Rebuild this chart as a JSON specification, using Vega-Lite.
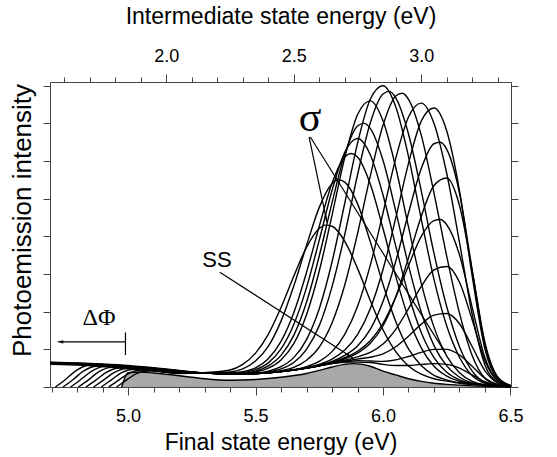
{
  "$schema": "https://vega.github.io/schema/vega-lite/v6.json",
  "width": 461,
  "height": 305,
  "autosize": "none",
  "padding": {"left": 50, "top": 82, "right": 46, "bottom": 70},
  "config": {
    "view": {"stroke": null},
    "font": "Liberation Sans",
    "axis": {"grid": false, "domainColor": "#444", "tickColor": "#444", "labelColor": "black", "titleColor": "black", "titleFontWeight": "normal", "labelFont": "Liberation Sans", "titleFont": "Liberation Sans"}
  },
  "datasets": {
    "spectra": [
      {"c": "SS", "e": 4.975, "i": 0}, {"c": "SS", "e": 5.0, "i": 0.38}, {"c": "SS", "e": 5.05, "i": 0.4}, {"c": "SS", "e": 5.1, "i": 0.37}, {"c": "SS", "e": 5.2, "i": 0.3}, {"c": "SS", "e": 5.3, "i": 0.22}, {"c": "SS", "e": 5.4, "i": 0.18}, {"c": "SS", "e": 5.5, "i": 0.2}, {"c": "SS", "e": 5.6, "i": 0.26}, {"c": "SS", "e": 5.7, "i": 0.36}, {"c": "SS", "e": 5.75, "i": 0.44}, {"c": "SS", "e": 5.8, "i": 0.53}, {"c": "SS", "e": 5.85, "i": 0.6}, {"c": "SS", "e": 5.88, "i": 0.62}, {"c": "SS", "e": 5.92, "i": 0.6}, {"c": "SS", "e": 5.95, "i": 0.55}, {"c": "SS", "e": 6.0, "i": 0.42}, {"c": "SS", "e": 6.05, "i": 0.32}, {"c": "SS", "e": 6.1, "i": 0.22}, {"c": "SS", "e": 6.15, "i": 0.15}, {"c": "SS", "e": 6.2, "i": 0.1}, {"c": "SS", "e": 6.25, "i": 0.07}, {"c": "SS", "e": 6.3, "i": 0.05}, {"c": "SS", "e": 6.35, "i": 0.03}, {"c": "SS", "e": 6.4, "i": 0.02}, {"c": "SS", "e": 6.5, "i": 0},
      {"c": "A", "e": 4.955, "i": 0}, {"c": "A", "e": 4.995, "i": 0.19}, {"c": "A", "e": 5.035, "i": 0.36}, {"c": "A", "e": 5.085, "i": 0.43}, {"c": "A", "e": 5.2, "i": 0.36}, {"c": "A", "e": 5.3, "i": 0.38}, {"c": "A", "e": 5.4, "i": 0.45}, {"c": "A", "e": 5.45, "i": 0.6}, {"c": "A", "e": 5.5, "i": 0.9}, {"c": "A", "e": 5.55, "i": 1.4}, {"c": "A", "e": 5.6, "i": 2.11}, {"c": "A", "e": 5.65, "i": 2.94}, {"c": "A", "e": 5.7, "i": 3.71}, {"c": "A", "e": 5.75, "i": 4.21}, {"c": "A", "e": 5.775, "i": 4.3}, {"c": "A", "e": 5.8, "i": 4.27}, {"c": "A", "e": 5.85, "i": 3.87}, {"c": "A", "e": 5.9, "i": 3.15}, {"c": "A", "e": 5.95, "i": 2.3}, {"c": "A", "e": 6.0, "i": 1.52}, {"c": "A", "e": 6.05, "i": 0.94}, {"c": "A", "e": 6.1, "i": 0.56}, {"c": "A", "e": 6.15, "i": 0.34}, {"c": "A", "e": 6.2, "i": 0.22}, {"c": "A", "e": 6.25, "i": 0.155}, {"c": "A", "e": 6.3, "i": 0.1}, {"c": "A", "e": 6.35, "i": 0.07}, {"c": "A", "e": 6.4, "i": 0.05}, {"c": "A", "e": 6.45, "i": 0.03}, {"c": "A", "e": 6.5, "i": 0.01},
      {"c": "B", "e": 4.925, "i": 0}, {"c": "B", "e": 4.965, "i": 0.19}, {"c": "B", "e": 5.005, "i": 0.37}, {"c": "B", "e": 5.055, "i": 0.45}, {"c": "B", "e": 5.2, "i": 0.37}, {"c": "B", "e": 5.3, "i": 0.37}, {"c": "B", "e": 5.4, "i": 0.4}, {"c": "B", "e": 5.45, "i": 0.48}, {"c": "B", "e": 5.5, "i": 0.69}, {"c": "B", "e": 5.55, "i": 1.08}, {"c": "B", "e": 5.6, "i": 1.75}, {"c": "B", "e": 5.65, "i": 2.68}, {"c": "B", "e": 5.7, "i": 3.76}, {"c": "B", "e": 5.75, "i": 4.77}, {"c": "B", "e": 5.8, "i": 5.4}, {"c": "B", "e": 5.825, "i": 5.5}, {"c": "B", "e": 5.85, "i": 5.44}, {"c": "B", "e": 5.9, "i": 4.87}, {"c": "B", "e": 5.95, "i": 3.86}, {"c": "B", "e": 6.0, "i": 2.73}, {"c": "B", "e": 6.05, "i": 1.74}, {"c": "B", "e": 6.1, "i": 1.01}, {"c": "B", "e": 6.15, "i": 0.57}, {"c": "B", "e": 6.2, "i": 0.31}, {"c": "B", "e": 6.25, "i": 0.19}, {"c": "B", "e": 6.3, "i": 0.11}, {"c": "B", "e": 6.35, "i": 0.07}, {"c": "B", "e": 6.4, "i": 0.05}, {"c": "B", "e": 6.45, "i": 0.03}, {"c": "B", "e": 6.5, "i": 0.01},
      {"c": "C", "e": 4.895, "i": 0}, {"c": "C", "e": 4.935, "i": 0.19}, {"c": "C", "e": 4.975, "i": 0.38}, {"c": "C", "e": 5.025, "i": 0.47}, {"c": "C", "e": 5.1, "i": 0.43}, {"c": "C", "e": 5.2, "i": 0.37}, {"c": "C", "e": 5.3, "i": 0.37}, {"c": "C", "e": 5.4, "i": 0.37}, {"c": "C", "e": 5.45, "i": 0.41}, {"c": "C", "e": 5.5, "i": 0.51}, {"c": "C", "e": 5.55, "i": 0.75}, {"c": "C", "e": 5.6, "i": 1.21}, {"c": "C", "e": 5.65, "i": 1.97}, {"c": "C", "e": 5.7, "i": 3.04}, {"c": "C", "e": 5.75, "i": 4.27}, {"c": "C", "e": 5.8, "i": 5.41}, {"c": "C", "e": 5.85, "i": 6.11}, {"c": "C", "e": 5.875, "i": 6.2}, {"c": "C", "e": 5.9, "i": 6.11}, {"c": "C", "e": 5.95, "i": 5.39}, {"c": "C", "e": 6.0, "i": 4.21}, {"c": "C", "e": 6.05, "i": 2.94}, {"c": "C", "e": 6.1, "i": 1.83}, {"c": "C", "e": 6.15, "i": 1.04}, {"c": "C", "e": 6.2, "i": 0.55}, {"c": "C", "e": 6.25, "i": 0.29}, {"c": "C", "e": 6.3, "i": 0.15}, {"c": "C", "e": 6.35, "i": 0.08}, {"c": "C", "e": 6.4, "i": 0.05}, {"c": "C", "e": 6.45, "i": 0.03}, {"c": "C", "e": 6.5, "i": 0.01},
      {"c": "D", "e": 4.865, "i": 0}, {"c": "D", "e": 4.905, "i": 0.19}, {"c": "D", "e": 4.945, "i": 0.38}, {"c": "D", "e": 4.995, "i": 0.49}, {"c": "D", "e": 5.1, "i": 0.435}, {"c": "D", "e": 5.2, "i": 0.375}, {"c": "D", "e": 5.3, "i": 0.37}, {"c": "D", "e": 5.4, "i": 0.36}, {"c": "D", "e": 5.45, "i": 0.38}, {"c": "D", "e": 5.5, "i": 0.46}, {"c": "D", "e": 5.55, "i": 0.64}, {"c": "D", "e": 5.6, "i": 1.01}, {"c": "D", "e": 5.65, "i": 1.66}, {"c": "D", "e": 5.7, "i": 2.64}, {"c": "D", "e": 5.75, "i": 3.9}, {"c": "D", "e": 5.8, "i": 5.22}, {"c": "D", "e": 5.85, "i": 6.23}, {"c": "D", "e": 5.9, "i": 6.6}, {"c": "D", "e": 5.95, "i": 6.17}, {"c": "D", "e": 6.0, "i": 5.1}, {"c": "D", "e": 6.05, "i": 3.74}, {"c": "D", "e": 6.1, "i": 2.45}, {"c": "D", "e": 6.15, "i": 1.45}, {"c": "D", "e": 6.2, "i": 0.78}, {"c": "D", "e": 6.25, "i": 0.39}, {"c": "D", "e": 6.3, "i": 0.19}, {"c": "D", "e": 6.35, "i": 0.09}, {"c": "D", "e": 6.4, "i": 0.05}, {"c": "D", "e": 6.45, "i": 0.03}, {"c": "D", "e": 6.5, "i": 0.01},
      {"c": "E", "e": 4.835, "i": 0}, {"c": "E", "e": 4.875, "i": 0.19}, {"c": "E", "e": 4.915, "i": 0.39}, {"c": "E", "e": 4.965, "i": 0.505}, {"c": "E", "e": 5.1, "i": 0.44}, {"c": "E", "e": 5.2, "i": 0.38}, {"c": "E", "e": 5.3, "i": 0.37}, {"c": "E", "e": 5.4, "i": 0.36}, {"c": "E", "e": 5.45, "i": 0.37}, {"c": "E", "e": 5.5, "i": 0.42}, {"c": "E", "e": 5.55, "i": 0.56}, {"c": "E", "e": 5.6, "i": 0.84}, {"c": "E", "e": 5.65, "i": 1.37}, {"c": "E", "e": 5.7, "i": 2.25}, {"c": "E", "e": 5.75, "i": 3.48}, {"c": "E", "e": 5.8, "i": 4.89}, {"c": "E", "e": 5.85, "i": 6.18}, {"c": "E", "e": 5.9, "i": 6.93}, {"c": "E", "e": 5.925, "i": 7.0}, {"c": "E", "e": 5.95, "i": 6.87}, {"c": "E", "e": 6.0, "i": 6.02}, {"c": "E", "e": 6.05, "i": 4.67}, {"c": "E", "e": 6.1, "i": 3.23}, {"c": "E", "e": 6.15, "i": 1.99}, {"c": "E", "e": 6.2, "i": 1.1}, {"c": "E", "e": 6.25, "i": 0.56}, {"c": "E", "e": 6.3, "i": 0.26}, {"c": "E", "e": 6.35, "i": 0.11}, {"c": "E", "e": 6.4, "i": 0.06}, {"c": "E", "e": 6.45, "i": 0.03}, {"c": "E", "e": 6.5, "i": 0.01},
      {"c": "F", "e": 4.805, "i": 0}, {"c": "F", "e": 4.845, "i": 0.19}, {"c": "F", "e": 4.885, "i": 0.4}, {"c": "F", "e": 4.935, "i": 0.52}, {"c": "F", "e": 5.0, "i": 0.5}, {"c": "F", "e": 5.1, "i": 0.445}, {"c": "F", "e": 5.2, "i": 0.38}, {"c": "F", "e": 5.3, "i": 0.37}, {"c": "F", "e": 5.4, "i": 0.35}, {"c": "F", "e": 5.45, "i": 0.36}, {"c": "F", "e": 5.5, "i": 0.4}, {"c": "F", "e": 5.55, "i": 0.5}, {"c": "F", "e": 5.6, "i": 0.72}, {"c": "F", "e": 5.65, "i": 1.15}, {"c": "F", "e": 5.7, "i": 1.92}, {"c": "F", "e": 5.75, "i": 3.08}, {"c": "F", "e": 5.8, "i": 4.56}, {"c": "F", "e": 5.85, "i": 6.09}, {"c": "F", "e": 5.9, "i": 7.23}, {"c": "F", "e": 5.95, "i": 7.6}, {"c": "F", "e": 6.0, "i": 7.07}, {"c": "F", "e": 6.05, "i": 5.83}, {"c": "F", "e": 6.1, "i": 4.25}, {"c": "F", "e": 6.15, "i": 2.76}, {"c": "F", "e": 6.2, "i": 1.59}, {"c": "F", "e": 6.25, "i": 0.82}, {"c": "F", "e": 6.3, "i": 0.38}, {"c": "F", "e": 6.35, "i": 0.15}, {"c": "F", "e": 6.4, "i": 0.06}, {"c": "F", "e": 6.45, "i": 0.03}, {"c": "F", "e": 6.5, "i": 0.01},
      {"c": "G", "e": 4.775, "i": 0}, {"c": "G", "e": 4.815, "i": 0.2}, {"c": "G", "e": 4.855, "i": 0.41}, {"c": "G", "e": 4.905, "i": 0.54}, {"c": "G", "e": 5.0, "i": 0.5}, {"c": "G", "e": 5.1, "i": 0.45}, {"c": "G", "e": 5.2, "i": 0.39}, {"c": "G", "e": 5.3, "i": 0.37}, {"c": "G", "e": 5.4, "i": 0.35}, {"c": "G", "e": 5.5, "i": 0.37}, {"c": "G", "e": 5.55, "i": 0.42}, {"c": "G", "e": 5.6, "i": 0.54}, {"c": "G", "e": 5.65, "i": 0.78}, {"c": "G", "e": 5.7, "i": 1.26}, {"c": "G", "e": 5.75, "i": 2.08}, {"c": "G", "e": 5.8, "i": 3.32}, {"c": "G", "e": 5.85, "i": 4.88}, {"c": "G", "e": 5.9, "i": 6.47}, {"c": "G", "e": 5.95, "i": 7.64}, {"c": "G", "e": 6.0, "i": 8.0}, {"c": "G", "e": 6.05, "i": 7.44}, {"c": "G", "e": 6.1, "i": 6.12}, {"c": "G", "e": 6.15, "i": 4.46}, {"c": "G", "e": 6.2, "i": 2.86}, {"c": "G", "e": 6.25, "i": 1.62}, {"c": "G", "e": 6.3, "i": 0.79}, {"c": "G", "e": 6.35, "i": 0.3}, {"c": "G", "e": 6.4, "i": 0.1}, {"c": "G", "e": 6.45, "i": 0.035}, {"c": "G", "e": 6.5, "i": 0.01},
      {"c": "H", "e": 4.745, "i": 0}, {"c": "H", "e": 4.785, "i": 0.2}, {"c": "H", "e": 4.825, "i": 0.42}, {"c": "H", "e": 4.875, "i": 0.55}, {"c": "H", "e": 5.0, "i": 0.51}, {"c": "H", "e": 5.1, "i": 0.455}, {"c": "H", "e": 5.2, "i": 0.39}, {"c": "H", "e": 5.3, "i": 0.37}, {"c": "H", "e": 5.4, "i": 0.35}, {"c": "H", "e": 5.5, "i": 0.36}, {"c": "H", "e": 5.55, "i": 0.4}, {"c": "H", "e": 5.6, "i": 0.48}, {"c": "H", "e": 5.65, "i": 0.65}, {"c": "H", "e": 5.7, "i": 1.0}, {"c": "H", "e": 5.75, "i": 1.63}, {"c": "H", "e": 5.8, "i": 2.66}, {"c": "H", "e": 5.85, "i": 4.05}, {"c": "H", "e": 5.9, "i": 5.63}, {"c": "H", "e": 5.95, "i": 7.01}, {"c": "H", "e": 6.0, "i": 7.78}, {"c": "H", "e": 6.025, "i": 7.85}, {"c": "H", "e": 6.05, "i": 7.68}, {"c": "H", "e": 6.1, "i": 6.72}, {"c": "H", "e": 6.15, "i": 5.21}, {"c": "H", "e": 6.2, "i": 3.55}, {"c": "H", "e": 6.25, "i": 2.13}, {"c": "H", "e": 6.3, "i": 1.07}, {"c": "H", "e": 6.35, "i": 0.42}, {"c": "H", "e": 6.4, "i": 0.12}, {"c": "H", "e": 6.45, "i": 0.04}, {"c": "H", "e": 6.5, "i": 0.01},
      {"c": "I", "e": 4.715, "i": 0}, {"c": "I", "e": 4.755, "i": 0.2}, {"c": "I", "e": 4.795, "i": 0.43}, {"c": "I", "e": 4.845, "i": 0.57}, {"c": "I", "e": 4.9, "i": 0.55}, {"c": "I", "e": 5.0, "i": 0.52}, {"c": "I", "e": 5.1, "i": 0.46}, {"c": "I", "e": 5.2, "i": 0.4}, {"c": "I", "e": 5.3, "i": 0.37}, {"c": "I", "e": 5.4, "i": 0.35}, {"c": "I", "e": 5.5, "i": 0.36}, {"c": "I", "e": 5.55, "i": 0.38}, {"c": "I", "e": 5.6, "i": 0.43}, {"c": "I", "e": 5.65, "i": 0.52}, {"c": "I", "e": 5.7, "i": 0.71}, {"c": "I", "e": 5.75, "i": 1.06}, {"c": "I", "e": 5.8, "i": 1.7}, {"c": "I", "e": 5.85, "i": 2.71}, {"c": "I", "e": 5.9, "i": 4.07}, {"c": "I", "e": 5.95, "i": 5.6}, {"c": "I", "e": 6.0, "i": 6.95}, {"c": "I", "e": 6.05, "i": 7.73}, {"c": "I", "e": 6.075, "i": 7.8}, {"c": "I", "e": 6.1, "i": 7.64}, {"c": "I", "e": 6.15, "i": 6.69}, {"c": "I", "e": 6.2, "i": 5.15}, {"c": "I", "e": 6.25, "i": 3.47}, {"c": "I", "e": 6.3, "i": 1.96}, {"c": "I", "e": 6.35, "i": 0.83}, {"c": "I", "e": 6.4, "i": 0.23}, {"c": "I", "e": 6.45, "i": 0.055}, {"c": "I", "e": 6.5, "i": 0.012},
      {"c": "J", "e": 4.694, "i": 0.6}, {"c": "J", "e": 4.8, "i": 0.59}, {"c": "J", "e": 4.9, "i": 0.56}, {"c": "J", "e": 5.0, "i": 0.52}, {"c": "J", "e": 5.1, "i": 0.465}, {"c": "J", "e": 5.2, "i": 0.4}, {"c": "J", "e": 5.3, "i": 0.37}, {"c": "J", "e": 5.4, "i": 0.35}, {"c": "J", "e": 5.5, "i": 0.36}, {"c": "J", "e": 5.6, "i": 0.41}, {"c": "J", "e": 5.65, "i": 0.46}, {"c": "J", "e": 5.7, "i": 0.54}, {"c": "J", "e": 5.75, "i": 0.68}, {"c": "J", "e": 5.8, "i": 0.94}, {"c": "J", "e": 5.85, "i": 1.4}, {"c": "J", "e": 5.9, "i": 2.14}, {"c": "J", "e": 5.95, "i": 3.23}, {"c": "J", "e": 6.0, "i": 4.62}, {"c": "J", "e": 6.05, "i": 6.07}, {"c": "J", "e": 6.1, "i": 7.17}, {"c": "J", "e": 6.15, "i": 7.54}, {"c": "J", "e": 6.2, "i": 7.0}, {"c": "J", "e": 6.25, "i": 5.67}, {"c": "J", "e": 6.3, "i": 3.84}, {"c": "J", "e": 6.35, "i": 1.92}, {"c": "J", "e": 6.4, "i": 0.58}, {"c": "J", "e": 6.45, "i": 0.12}, {"c": "J", "e": 6.5, "i": 0.02},
      {"c": "K", "e": 4.694, "i": 0.61}, {"c": "K", "e": 4.8, "i": 0.59}, {"c": "K", "e": 4.9, "i": 0.56}, {"c": "K", "e": 5.0, "i": 0.53}, {"c": "K", "e": 5.1, "i": 0.47}, {"c": "K", "e": 5.2, "i": 0.4}, {"c": "K", "e": 5.3, "i": 0.37}, {"c": "K", "e": 5.4, "i": 0.35}, {"c": "K", "e": 5.5, "i": 0.36}, {"c": "K", "e": 5.6, "i": 0.41}, {"c": "K", "e": 5.7, "i": 0.51}, {"c": "K", "e": 5.75, "i": 0.6}, {"c": "K", "e": 5.8, "i": 0.74}, {"c": "K", "e": 5.85, "i": 0.98}, {"c": "K", "e": 5.9, "i": 1.39}, {"c": "K", "e": 5.95, "i": 2.08}, {"c": "K", "e": 6.0, "i": 3.12}, {"c": "K", "e": 6.05, "i": 4.49}, {"c": "K", "e": 6.1, "i": 5.94}, {"c": "K", "e": 6.15, "i": 7.06}, {"c": "K", "e": 6.2, "i": 7.41}, {"c": "K", "e": 6.25, "i": 6.8}, {"c": "K", "e": 6.3, "i": 5.21}, {"c": "K", "e": 6.35, "i": 2.94}, {"c": "K", "e": 6.4, "i": 1.0}, {"c": "K", "e": 6.45, "i": 0.21}, {"c": "K", "e": 6.5, "i": 0.03},
      {"c": "L", "e": 4.694, "i": 0.62}, {"c": "L", "e": 4.8, "i": 0.6}, {"c": "L", "e": 4.9, "i": 0.57}, {"c": "L", "e": 5.0, "i": 0.53}, {"c": "L", "e": 5.1, "i": 0.475}, {"c": "L", "e": 5.2, "i": 0.41}, {"c": "L", "e": 5.3, "i": 0.37}, {"c": "L", "e": 5.4, "i": 0.35}, {"c": "L", "e": 5.5, "i": 0.36}, {"c": "L", "e": 5.6, "i": 0.41}, {"c": "L", "e": 5.7, "i": 0.5}, {"c": "L", "e": 5.75, "i": 0.58}, {"c": "L", "e": 5.8, "i": 0.68}, {"c": "L", "e": 5.85, "i": 0.84}, {"c": "L", "e": 5.9, "i": 1.09}, {"c": "L", "e": 5.95, "i": 1.53}, {"c": "L", "e": 6.0, "i": 2.27}, {"c": "L", "e": 6.05, "i": 3.34}, {"c": "L", "e": 6.1, "i": 4.62}, {"c": "L", "e": 6.15, "i": 5.8}, {"c": "L", "e": 6.2, "i": 6.46}, {"c": "L", "e": 6.225, "i": 6.5}, {"c": "L", "e": 6.25, "i": 6.31}, {"c": "L", "e": 6.3, "i": 5.15}, {"c": "L", "e": 6.35, "i": 3.1}, {"c": "L", "e": 6.4, "i": 1.11}, {"c": "L", "e": 6.45, "i": 0.24}, {"c": "L", "e": 6.5, "i": 0.04},
      {"c": "M", "e": 4.694, "i": 0.62}, {"c": "M", "e": 4.8, "i": 0.6}, {"c": "M", "e": 4.9, "i": 0.58}, {"c": "M", "e": 5.0, "i": 0.54}, {"c": "M", "e": 5.1, "i": 0.48}, {"c": "M", "e": 5.2, "i": 0.41}, {"c": "M", "e": 5.3, "i": 0.37}, {"c": "M", "e": 5.4, "i": 0.35}, {"c": "M", "e": 5.5, "i": 0.36}, {"c": "M", "e": 5.6, "i": 0.41}, {"c": "M", "e": 5.7, "i": 0.5}, {"c": "M", "e": 5.8, "i": 0.65}, {"c": "M", "e": 5.85, "i": 0.75}, {"c": "M", "e": 5.9, "i": 0.9}, {"c": "M", "e": 5.95, "i": 1.16}, {"c": "M", "e": 6.0, "i": 1.62}, {"c": "M", "e": 6.05, "i": 2.39}, {"c": "M", "e": 6.1, "i": 3.43}, {"c": "M", "e": 6.15, "i": 4.53}, {"c": "M", "e": 6.2, "i": 5.35}, {"c": "M", "e": 6.25, "i": 5.55}, {"c": "M", "e": 6.3, "i": 4.82}, {"c": "M", "e": 6.35, "i": 3.08}, {"c": "M", "e": 6.4, "i": 1.18}, {"c": "M", "e": 6.45, "i": 0.27}, {"c": "M", "e": 6.5, "i": 0.045},
      {"c": "N", "e": 4.694, "i": 0.63}, {"c": "N", "e": 4.8, "i": 0.61}, {"c": "N", "e": 4.9, "i": 0.58}, {"c": "N", "e": 5.0, "i": 0.54}, {"c": "N", "e": 5.1, "i": 0.485}, {"c": "N", "e": 5.2, "i": 0.42}, {"c": "N", "e": 5.3, "i": 0.37}, {"c": "N", "e": 5.4, "i": 0.35}, {"c": "N", "e": 5.5, "i": 0.36}, {"c": "N", "e": 5.6, "i": 0.41}, {"c": "N", "e": 5.7, "i": 0.5}, {"c": "N", "e": 5.75, "i": 0.57}, {"c": "N", "e": 5.8, "i": 0.66}, {"c": "N", "e": 5.85, "i": 0.78}, {"c": "N", "e": 5.9, "i": 0.95}, {"c": "N", "e": 5.95, "i": 1.23}, {"c": "N", "e": 6.0, "i": 1.69}, {"c": "N", "e": 6.05, "i": 2.39}, {"c": "N", "e": 6.1, "i": 3.22}, {"c": "N", "e": 6.15, "i": 4.0}, {"c": "N", "e": 6.2, "i": 4.42}, {"c": "N", "e": 6.225, "i": 4.45}, {"c": "N", "e": 6.25, "i": 4.31}, {"c": "N", "e": 6.3, "i": 3.51}, {"c": "N", "e": 6.35, "i": 2.11}, {"c": "N", "e": 6.4, "i": 0.77}, {"c": "N", "e": 6.45, "i": 0.17}, {"c": "N", "e": 6.5, "i": 0.03},
      {"c": "O", "e": 4.694, "i": 0.64}, {"c": "O", "e": 4.8, "i": 0.62}, {"c": "O", "e": 4.9, "i": 0.59}, {"c": "O", "e": 5.0, "i": 0.55}, {"c": "O", "e": 5.1, "i": 0.49}, {"c": "O", "e": 5.2, "i": 0.42}, {"c": "O", "e": 5.3, "i": 0.37}, {"c": "O", "e": 5.4, "i": 0.35}, {"c": "O", "e": 5.5, "i": 0.36}, {"c": "O", "e": 5.6, "i": 0.41}, {"c": "O", "e": 5.7, "i": 0.5}, {"c": "O", "e": 5.8, "i": 0.64}, {"c": "O", "e": 5.85, "i": 0.71}, {"c": "O", "e": 5.9, "i": 0.8}, {"c": "O", "e": 5.95, "i": 0.92}, {"c": "O", "e": 6.0, "i": 1.14}, {"c": "O", "e": 6.05, "i": 1.53}, {"c": "O", "e": 6.1, "i": 2.08}, {"c": "O", "e": 6.15, "i": 2.67}, {"c": "O", "e": 6.2, "i": 3.11}, {"c": "O", "e": 6.25, "i": 3.2}, {"c": "O", "e": 6.3, "i": 2.78}, {"c": "O", "e": 6.35, "i": 1.78}, {"c": "O", "e": 6.4, "i": 0.69}, {"c": "O", "e": 6.45, "i": 0.16}, {"c": "O", "e": 6.5, "i": 0.03},
      {"c": "P", "e": 4.694, "i": 0.64}, {"c": "P", "e": 4.8, "i": 0.62}, {"c": "P", "e": 4.9, "i": 0.59}, {"c": "P", "e": 5.0, "i": 0.55}, {"c": "P", "e": 5.1, "i": 0.495}, {"c": "P", "e": 5.2, "i": 0.43}, {"c": "P", "e": 5.3, "i": 0.37}, {"c": "P", "e": 5.4, "i": 0.35}, {"c": "P", "e": 5.5, "i": 0.36}, {"c": "P", "e": 5.6, "i": 0.41}, {"c": "P", "e": 5.7, "i": 0.5}, {"c": "P", "e": 5.8, "i": 0.63}, {"c": "P", "e": 5.85, "i": 0.69}, {"c": "P", "e": 5.9, "i": 0.74}, {"c": "P", "e": 5.95, "i": 0.79}, {"c": "P", "e": 6.0, "i": 0.88}, {"c": "P", "e": 6.05, "i": 1.07}, {"c": "P", "e": 6.1, "i": 1.35}, {"c": "P", "e": 6.15, "i": 1.67}, {"c": "P", "e": 6.2, "i": 1.91}, {"c": "P", "e": 6.25, "i": 1.95}, {"c": "P", "e": 6.3, "i": 1.68}, {"c": "P", "e": 6.35, "i": 1.07}, {"c": "P", "e": 6.4, "i": 0.43}, {"c": "P", "e": 6.45, "i": 0.11}, {"c": "P", "e": 6.5, "i": 0.02},
      {"c": "Q", "e": 4.694, "i": 0.65}, {"c": "Q", "e": 4.8, "i": 0.63}, {"c": "Q", "e": 4.9, "i": 0.6}, {"c": "Q", "e": 5.0, "i": 0.56}, {"c": "Q", "e": 5.1, "i": 0.5}, {"c": "Q", "e": 5.2, "i": 0.43}, {"c": "Q", "e": 5.3, "i": 0.37}, {"c": "Q", "e": 5.4, "i": 0.35}, {"c": "Q", "e": 5.5, "i": 0.36}, {"c": "Q", "e": 5.6, "i": 0.41}, {"c": "Q", "e": 5.7, "i": 0.5}, {"c": "Q", "e": 5.8, "i": 0.62}, {"c": "Q", "e": 5.85, "i": 0.66}, {"c": "Q", "e": 5.9, "i": 0.7}, {"c": "Q", "e": 5.95, "i": 0.69}, {"c": "Q", "e": 6.0, "i": 0.68}, {"c": "Q", "e": 6.05, "i": 0.72}, {"c": "Q", "e": 6.1, "i": 0.81}, {"c": "Q", "e": 6.15, "i": 0.92}, {"c": "Q", "e": 6.2, "i": 1.0}, {"c": "Q", "e": 6.25, "i": 1.0}, {"c": "Q", "e": 6.3, "i": 0.85}, {"c": "Q", "e": 6.35, "i": 0.55}, {"c": "Q", "e": 6.4, "i": 0.23}, {"c": "Q", "e": 6.45, "i": 0.07}, {"c": "Q", "e": 6.5, "i": 0.01},
      {"c": "R", "e": 4.694, "i": 0.66}, {"c": "R", "e": 4.8, "i": 0.64}, {"c": "R", "e": 4.9, "i": 0.61}, {"c": "R", "e": 5.0, "i": 0.57}, {"c": "R", "e": 5.1, "i": 0.51}, {"c": "R", "e": 5.2, "i": 0.44}, {"c": "R", "e": 5.3, "i": 0.37}, {"c": "R", "e": 5.4, "i": 0.35}, {"c": "R", "e": 5.5, "i": 0.36}, {"c": "R", "e": 5.6, "i": 0.41}, {"c": "R", "e": 5.7, "i": 0.5}, {"c": "R", "e": 5.8, "i": 0.62}, {"c": "R", "e": 5.85, "i": 0.66}, {"c": "R", "e": 5.9, "i": 0.66}, {"c": "R", "e": 5.95, "i": 0.65}, {"c": "R", "e": 6.0, "i": 0.6}, {"c": "R", "e": 6.05, "i": 0.57}, {"c": "R", "e": 6.1, "i": 0.57}, {"c": "R", "e": 6.15, "i": 0.6}, {"c": "R", "e": 6.2, "i": 0.62}, {"c": "R", "e": 6.25, "i": 0.6}, {"c": "R", "e": 6.3, "i": 0.5}, {"c": "R", "e": 6.35, "i": 0.32}, {"c": "R", "e": 6.4, "i": 0.14}, {"c": "R", "e": 6.45, "i": 0.05}, {"c": "R", "e": 6.5, "i": 0.01}
    ],
    "pointers": [
      {"g": "s1", "e": 5.71, "i": 6.64}, {"g": "s1", "e": 5.78, "i": 4.38},
      {"g": "s2", "e": 5.715, "i": 6.64}, {"g": "s2", "e": 6.245, "i": 0.9},
      {"g": "ss", "e": 5.36, "i": 3.05}, {"g": "ss", "e": 5.882, "i": 0.77},
      {"g": "dp", "e": 4.745, "i": 1.2}, {"g": "dp", "e": 4.99, "i": 1.2},
      {"g": "bar", "e": 4.99, "i": 0.85}, {"g": "bar", "e": 4.99, "i": 1.45}
    ]
  },
  "encoding": {
    "x": {"field": "e", "type": "quantitative", "scale": {"domain": [4.694, 6.502], "nice": false, "zero": false}},
    "y": {"field": "i", "type": "quantitative", "scale": {"domain": [0, 8.1], "nice": false, "zero": false}}
  },
  "layer": [
    {
      "data": {"name": "spectra"},
      "transform": [{"filter": "datum.c == 'SS'"}],
      "mark": {"type": "area", "color": "#a8a8a8", "interpolate": "monotone"},
      "encoding": {
        "x": {"field": "e", "type": "quantitative", "axis": {"orient": "bottom", "values": [4.7, 4.8, 4.9, 5.0, 5.1, 5.2, 5.3, 5.4, 5.5, 5.6, 5.7, 5.8, 5.9, 6.0, 6.1, 6.2, 6.3, 6.4, 6.5], "labelExpr": "round(datum.value*10) % 5 == 0 ? format(datum.value, '.1f') : ''", "tickSize": {"condition": {"test": "round(datum.value*10) % 5 == 0", "value": 8}, "value": 5}, "labelFontSize": 18, "labelPadding": 12, "labelFlush": false, "title": "Final state energy (eV)", "titleFontSize": 23, "titlePadding": 6}},
        "y": {"field": "i", "type": "quantitative", "axis": {"orient": "left", "values": [0, 1, 2, 3, 4, 5, 6, 7, 8], "labels": false, "tickSize": 7, "title": "Photoemission intensity", "titleFontSize": 26, "titlePadding": 7, "titleY": 138}}
      }
    },
    {
      "data": {"name": "spectra"},
      "mark": {"type": "line", "color": "black", "strokeWidth": 1.4, "interpolate": "monotone"},
      "encoding": {
        "x": {"field": "e", "type": "quantitative", "axis": {"orient": "top", "values": [4.75, 4.85, 4.95, 5.05, 5.15, 5.25, 5.35, 5.45, 5.55, 5.65, 5.75, 5.85, 5.95, 6.05, 6.15, 6.25, 6.35, 6.45], "labelExpr": "round((datum.value-3.15)*10) % 5 == 0 ? format(datum.value-3.15, '.1f') : ''", "tickSize": {"condition": {"test": "round((datum.value-3.15)*10) % 5 == 0", "value": 8}, "value": 5}, "labelFontSize": 18, "labelPadding": 9, "labelFlush": false, "title": "Intermediate state energy (eV)", "titleFontSize": 23, "titlePadding": 19}},
        "y": {"field": "i", "type": "quantitative", "axis": {"orient": "right", "values": [0, 1, 2, 3, 4, 5, 6, 7, 8], "labels": false, "tickSize": 7, "title": null}},
        "detail": {"field": "c"}
      }
    },
    {
      "data": {"name": "pointers"},
      "mark": {"type": "line", "color": "black", "strokeWidth": 1.2},
      "encoding": {
        "x": {"field": "e", "type": "quantitative", "axis": null},
        "y": {"field": "i", "type": "quantitative", "axis": null},
        "detail": {"field": "g"}
      }
    },
    {
      "data": {"values": [{"e": 5.78, "i": 4.38}]},
      "mark": {"type": "point", "shape": "M0,0L-0.3,-1.6L0.3,-1.6Z", "filled": true, "color": "black", "opacity": 1, "size": 70, "angle": 347},
      "encoding": {"x": {"field": "e", "type": "quantitative", "axis": null}, "y": {"field": "i", "type": "quantitative", "axis": null}}
    },
    {
      "data": {"values": [{"e": 6.245, "i": 0.9}]},
      "mark": {"type": "point", "shape": "M0,0L-0.3,-1.6L0.3,-1.6Z", "filled": true, "color": "black", "opacity": 1, "size": 70, "angle": 328},
      "encoding": {"x": {"field": "e", "type": "quantitative", "axis": null}, "y": {"field": "i", "type": "quantitative", "axis": null}}
    },
    {
      "data": {"values": [{"e": 5.882, "i": 0.77}]},
      "mark": {"type": "point", "shape": "M0,0L-0.3,-1.6L0.3,-1.6Z", "filled": true, "color": "black", "opacity": 1, "size": 70, "angle": 303},
      "encoding": {"x": {"field": "e", "type": "quantitative", "axis": null}, "y": {"field": "i", "type": "quantitative", "axis": null}}
    },
    {
      "data": {"values": [{"e": 4.72, "i": 1.2}]},
      "mark": {"type": "point", "shape": "M0,0L-0.4,-1.6L0.4,-1.6Z", "filled": true, "color": "black", "opacity": 1, "size": 70, "angle": 90},
      "encoding": {"x": {"field": "e", "type": "quantitative", "axis": null}, "y": {"field": "i", "type": "quantitative", "axis": null}}
    },
    {
      "data": {"values": [{"t": "σ", "e": 5.714, "i": 7.14}]},
      "mark": {"type": "text", "font": "Liberation Serif", "fontSize": 42, "color": "black", "baseline": "middle", "align": "center"},
      "encoding": {"x": {"field": "e", "type": "quantitative", "axis": null}, "y": {"field": "i", "type": "quantitative", "axis": null}, "text": {"field": "t"}}
    },
    {
      "data": {"values": [{"t": "SS", "e": 5.349, "i": 3.37}]},
      "mark": {"type": "text", "font": "Liberation Sans", "fontSize": 22, "color": "black", "baseline": "middle", "align": "center"},
      "encoding": {"x": {"field": "e", "type": "quantitative", "axis": null}, "y": {"field": "i", "type": "quantitative", "axis": null}, "text": {"field": "t"}}
    },
    {
      "data": {"values": [{"t": "ΔΦ", "e": 4.886, "i": 1.83}]},
      "mark": {"type": "text", "font": "Liberation Serif", "fontSize": 24, "color": "black", "baseline": "middle", "align": "center"},
      "encoding": {"x": {"field": "e", "type": "quantitative", "axis": null}, "y": {"field": "i", "type": "quantitative", "axis": null}, "text": {"field": "t"}}
    }
  ],
  "resolve": {"axis": {"x": "independent", "y": "independent"}}
}
